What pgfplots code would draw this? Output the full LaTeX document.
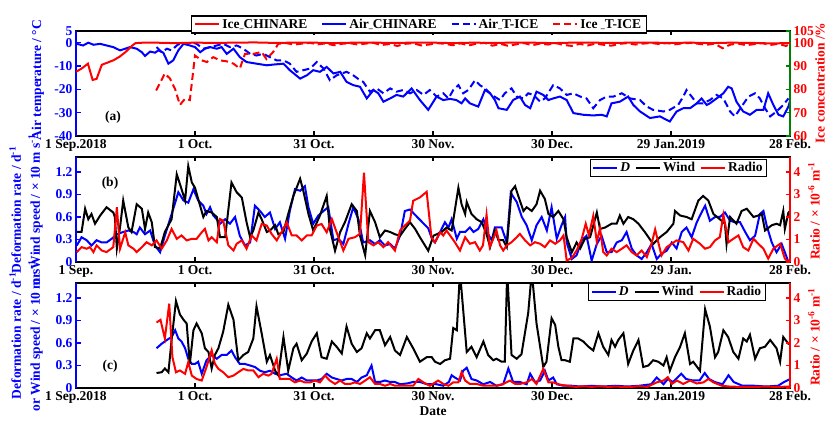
\documentclass[border=0pt]{standalone}
\usepackage{fontspec}
\setmainfont{Liberation Serif}
\usepackage{pgfplots}
\pgfplotsset{compat=1.18}

\definecolor{cblue}{RGB}{0,0,255}
\definecolor{cred}{RGB}{255,0,0}
\definecolor{cgreen}{RGB}{0,128,0}
\newcommand{\lbl}{\fontsize{13.5}{16}\selectfont\bfseries}
% short low underscore used in the station names
\newcommand{\us}{{\fontsize{8}{8}\selectfont\_}}

\pgfplotsset{
  panel/.style={
    scale only axis, width=714pt, height=105pt, anchor=south west,
    xmin=0, xmax=180, xtick={0,30,60,90,120,150,180},
    tick align=inside, major tick length=4.5pt,
    axis line style={line width=1.8pt},
    every tick/.append style={line width=1.3pt, black},
    tick label style={font=\lbl},
    every axis plot/.append style={line width=2pt},
    legend image code/.code={\draw[#1,line width=2pt] (0pt,0pt) -- (24pt,0pt);},
  },
  leftpanel/.style={panel, xtick pos=both, xticklabel pos=bottom, ytick pos=left,
    every y tick/.append style={cblue}, yticklabel style={cblue},
    extra description/.code={\draw[cblue,line width=1.8pt] (axis description cs:0,0) -- (axis description cs:0,1);}},
  rightpanel/.style={panel, axis x line=none, axis y line*=right, yticklabel style={cred}},
  dash/.style={dash pattern=on 7pt off 4pt},
  smalllegend/.style={legend columns=3,
    legend style={draw=black, line width=1.2pt, fill=white,
      font=\lbl, inner xsep=2pt, inner ysep=1pt,
      nodes={inner xsep=2pt},
      /tikz/every even column/.append style={column sep=3pt}}},
}

\begin{document}
\begin{tikzpicture}
\useasboundingbox (0pt,0pt) rectangle (826pt,427pt);

% ---------------- (a) air temperature and ice concentration ----------------
\begin{axis}[leftpanel, at={(76pt,291pt)},
  ymin=-40, ymax=5, ytick={-40,-30,-20,-10,0,5}, yticklabels={-40,-30,-20,-10,0,5},
  xticklabels={1 Sep.2018,1 Oct.,31 Oct.,30 Nov.,30 Dec.,29 Jan.2019,28 Feb.}]
% Air_CHINARE
\addplot[cblue] coordinates {
(0.2,-0.5) (1.8,-1.2) (3.1,0.0) (4.4,-0.9) (6.1,-0.5) (7.7,-1.2) (9.4,-1.9) (11.1,-3.3) (12.4,-2.6) (13.6,-1.9)
(15.3,-2.6) (16.6,-4.1) (17.4,-5.7) (18.7,-3.8) (19.9,-4.3) (20.8,-3.3) (22.0,-4.3) (23.3,-9.0) (24.5,-7.6) (25.8,-3.3)
(27.1,-0.5) (28.7,-1.2) (30.0,-1.9) (31.3,-4.1) (32.5,-2.6) (33.8,-1.9) (35.5,-2.6) (36.7,-1.9) (38.0,-4.8) (39.7,-2.6)
(41.3,-6.2) (43.0,-8.3) (45.5,-9.0) (48.1,-9.7) (49.7,-9.4) (52.3,-9.0) (53.9,-11.8) (56.5,-15.4) (58.2,-14.0) (59.8,-11.8)
(61.5,-12.5) (63.2,-10.4) (64.9,-13.2) (66.6,-12.5) (68.2,-16.8) (69.9,-18.2) (71.6,-18.9) (73.3,-23.9) (75.0,-20.3) (76.2,-21.7)
(77.5,-25.3) (79.2,-23.9) (80.8,-22.4) (82.5,-23.1) (84.6,-19.6) (86.7,-24.6) (88.8,-28.8) (90.9,-23.1) (92.6,-24.6) (94.3,-24.1)
(95.9,-24.6) (97.2,-26.0) (98.1,-23.9) (99.3,-26.0) (101.4,-27.4) (103.1,-20.3) (104.4,-21.7) (105.6,-24.6) (106.5,-28.1) (108.6,-28.8)
(110.2,-24.6) (111.9,-23.1) (113.2,-26.7) (114.5,-28.1) (116.1,-21.0) (117.8,-22.4) (119.1,-24.6) (120.3,-23.9) (122.0,-23.1) (123.7,-24.6)
(125.4,-30.2) (127.9,-30.9) (130.4,-31.2) (132.5,-30.9) (133.8,-31.6) (135.0,-26.0) (137.1,-25.3) (139.2,-23.1) (140.5,-26.7) (142.2,-29.5)
(144.7,-32.3) (147.2,-31.6) (149.7,-33.8) (151.4,-29.5) (153.1,-28.1) (154.8,-28.1) (156.5,-26.0) (157.7,-23.9) (159.0,-26.7) (159.8,-26.0)
(161.5,-23.9) (163.2,-21.7) (164.4,-18.9) (165.3,-19.6) (166.5,-25.3) (168.2,-29.5) (169.9,-30.9) (171.6,-28.8) (173.3,-28.8) (174.5,-21.7)
(175.8,-26.7) (177.1,-30.9) (178.3,-31.6) (179.6,-27.4) (180.0,-25.0)};
% Air_T-ICE
\addplot[cblue, dash] coordinates {
(20.3,-1.9) (21.6,-4.1) (22.9,-2.6) (24.1,-3.3) (25.4,-1.2) (26.6,0.0) (27.9,-0.5) (29.2,0.2) (30.4,-0.5) (32.1,-2.6)
(33.8,-1.9) (35.5,-1.2) (37.1,-0.5) (38.8,-1.9) (40.5,-1.2) (42.2,-2.6) (43.9,-4.8) (45.5,-5.5) (47.2,-4.8) (48.9,-6.2)
(50.6,-7.6) (52.3,-7.6) (53.9,-9.0) (55.6,-12.5) (57.3,-11.8) (59.0,-11.1) (60.7,-8.3) (62.4,-11.1) (64.0,-16.1) (65.7,-14.0)
(68.2,-12.5) (69.9,-14.0) (71.6,-16.1) (72.4,-16.8) (74.1,-21.0) (75.8,-19.6) (77.5,-21.7) (79.2,-19.6) (80.8,-21.0) (82.5,-20.3)
(84.2,-21.7) (85.9,-20.3) (87.6,-22.4) (89.2,-20.3) (90.9,-23.1) (92.6,-21.7) (93.9,-23.9) (95.1,-20.3) (96.4,-18.2) (97.6,-21.7)
(98.9,-20.3) (100.6,-16.1) (101.8,-18.2) (103.1,-19.6) (104.8,-22.4) (106.9,-24.6) (108.1,-21.7) (109.8,-19.6) (111.1,-23.1) (112.8,-23.9)
(114.0,-21.7) (115.3,-22.4) (117.0,-25.3) (118.2,-23.9) (120.3,-18.2) (122.0,-19.6) (123.7,-22.4) (125.4,-21.7) (127.1,-23.1) (128.7,-23.9)
(130.4,-28.1) (132.1,-24.6) (133.8,-23.1) (135.5,-23.1) (137.6,-21.7) (139.7,-23.9) (142.2,-24.6) (143.9,-27.4) (145.5,-28.8) (148.1,-29.5)
(149.7,-28.8) (151.8,-26.7) (153.1,-23.1) (153.9,-20.3) (155.2,-23.1) (156.5,-26.0) (158.1,-26.0) (159.8,-24.6) (161.5,-22.4) (163.2,-23.9)
(164.9,-29.5) (166.1,-31.6) (167.8,-27.4) (169.5,-23.1) (171.2,-21.7) (172.4,-23.9) (173.7,-28.1) (175.0,-31.6) (176.6,-29.5) (178.3,-26.7)
(179.6,-23.9)};
\end{axis}

\begin{axis}[rightpanel, at={(76pt,291pt)},
  ymin=60, ymax=105, ytick={60,70,80,90,100,105}, yticklabels={60,70,80,90,100,105},
  every outer y axis line/.append style={cgreen}, every y tick/.append style={cgreen},
  legend columns=4,
  legend style={at={(0.48,1.062)}, anchor=center, draw=black, line width=1.2pt, fill=white,
    font=\lbl, inner xsep=3pt, inner ysep=1pt,
    /tikz/every even column/.append style={column sep=12pt}}]
\addlegendimage{cred}\addlegendentry{Ice\us CHINARE}
\addlegendimage{cblue}\addlegendentry{Air\us CHINARE}
\addlegendimage{cblue, dash}\addlegendentry{Air\us T-ICE}
\addlegendimage{cred, dash}\addlegendentry{Ice \us T-ICE}
% Ice_CHINARE
\addplot[cred, forget plot] coordinates {
(0,87.5) (1.5,89) (3,91) (4.2,84) (5.2,84.5) (6.5,90.5) (8,91.5) (9.5,92.5) (11,94) (12.5,96) (14,98.5) (15,99.8)
(17,100) (20,100) (25,99.8) (30,100) (35,99.9) (40,100) (45,100.1) (50,99.9) (55,100) (60,100) (65,99.8) (70,100)
(75,100) (80,99.9) (85,100) (90,100) (95,99.8) (100,100) (105,99.9) (110,100) (115,100) (120,99.8) (125,100) (130,100)
(135,99.9) (140,100) (145,100) (150,99.9) (155,100) (160,99.8) (165,100) (170,99.9) (175,99.7) (180,99.8)};
% Ice_T-ICE
\addplot[cred, dash, forget plot] coordinates {
(20.2,79.5) (22.4,86.8) (23.7,84.6) (25,80) (26.2,73.3) (27.5,76) (28.7,75.4) (30,94.5) (31.7,92.4) (33,91.7)
(34.6,93.8) (36.3,92.4) (38,92) (39.7,91) (41.3,88.9) (42.6,95.2) (44.7,95.2) (46.8,96) (48,93) (49.7,96) (51,99.5)
(53,99.8) (55,99.2) (57,99.6) (59,99.9) (61,99.3) (63,99.7) (65,98.9) (67,99.5) (69,99.8) (71,99.2) (73,99.6) (75,99.9)
(77,99) (79,99.4) (81,98.6) (83,99.5) (85,99.8) (87,98.8) (89,99.2) (91,99.8) (93,99.5) (95,98.9) (97,99.7) (99,98.8)
(101,99.6) (103,99.9) (105,98.7) (107,99.5) (109,98.6) (111,99.3) (113,99.8) (115,98.9) (117,99.6) (119,99.2) (121,99.8)
(123,99) (125,98.6) (127,99.5) (129,98.8) (131,99.6) (133,99.1) (135,98.7) (137,99.5) (139,99.8) (141,99.2) (143,99.6)
(145,99.9) (147,99.4) (149,99.8) (151,99.3) (153,99.7) (155,99.9) (157,99.5) (159,99.1) (161,99.6) (163,97.6) (165,99.2)
(167,99.6) (169,98.9) (171,99.4) (173,99.8) (175,99) (177,99.5) (179,98.6) (180,99.4)};
\end{axis}

% ---------------- (b) ----------------
\begin{axis}[leftpanel, at={(76pt,165pt)},
  ymin=0, ymax=1.4, ytick={0,0.3,0.6,0.9,1.2}, yticklabels={0,0.3,0.6,0.9,1.2},
  xticklabels={1 Sep.,1 Oct.,31 Oct.,30 Nov.,30 Dec.,29 Jan.,28 Feb.}]
% D
\addplot[cblue] coordinates {
(0.2,0.22) (1.4,0.33) (2.7,0.29) (3.9,0.22) (5.2,0.29) (6.5,0.26) (7.7,0.26) (9.0,0.31) (10.3,0.37) (11.9,0.40)
(13.2,0.42) (14.5,0.40) (15.3,0.37) (16.1,0.46) (17.4,0.37) (18.7,0.42) (19.9,0.22) (21.2,0.13) (22.4,0.35) (23.7,0.57)
(25.0,0.79) (25.8,0.93) (27.1,0.82) (28.3,0.79) (29.6,0.97) (30.8,0.82) (32.1,0.75) (32.9,0.64) (33.8,0.73) (34.6,0.62)
(35.5,0.57) (36.3,0.51) (37.6,0.57) (38.8,0.51) (40.1,0.60) (41.3,0.35) (42.6,0.22) (43.9,0.26) (45.1,0.75) (46.4,0.68)
(47.6,0.60) (48.9,0.66) (50.2,0.44) (51.4,0.53) (52.7,0.31) (53.9,0.68) (55.2,0.97) (56.5,0.95) (57.7,1.01) (58.6,0.73)
(59.8,0.51) (61.1,0.62) (62.4,0.68) (63.6,0.73) (64.9,0.29) (66.1,0.31) (67.4,0.24) (68.7,0.51) (69.9,0.73) (71.2,0.57)
(72.4,0.26) (74.1,0.29) (75.4,0.24) (76.6,0.29) (77.9,0.22) (79.2,0.24) (80.4,0.18) (81.7,0.35) (82.9,0.68) (84.2,0.70)
(86.0,0.60) (88.8,0.45) (89.8,0.30) (90.5,0.26) (91.8,0.40) (93.0,0.53) (93.9,0.46) (94.7,0.57) (96.0,0.31) (96.8,0.40)
(98.1,0.40) (99.3,0.46) (100.2,0.40) (101.4,0.44) (102.7,0.57) (103.9,0.37) (104.8,0.29) (105.6,0.46) (107.3,0.46) (108.6,0.26)
(109.6,0.92) (111.1,0.80) (112.4,0.60) (113.6,0.49) (114.9,0.29) (116.1,0.49) (117.4,0.60) (118.7,0.42) (119.9,0.73) (121.2,0.31)
(122.4,0.49) (123.3,0.60) (123.7,0.26) (125.0,0.04) (126.2,0.09) (127.5,0.29) (128.7,0.35) (130.0,0.02) (131.3,0.24) (132.5,0.35)
(133.8,0.13) (135.0,0.13) (136.3,0.26) (137.6,0.29) (138.8,0.40) (140.1,0.18) (141.3,0.09) (142.6,0.04) (143.9,0.13) (145.1,0.24)
(146.4,0.04) (147.6,0.11) (148.9,0.15) (150.2,0.26) (151.4,0.18) (152.7,0.40) (153.9,0.46) (155.2,0.33) (156.5,0.53) (157.7,0.66)
(158.6,0.75) (159.8,0.55) (161.1,0.60) (162.3,0.60) (163.6,0.66) (164.9,0.55) (166.1,0.53) (167.4,0.53) (168.7,0.40) (169.9,0.29)
(171.2,0.35) (172.4,0.64) (173.3,0.68) (174.1,0.49) (175.4,0.26) (176.6,0.13) (177.9,0.24) (178.7,0.13) (179.6,0.0) (180,0.02)};
% Wind
\addplot[black] coordinates {
(0.2,0.40) (1.4,0.40) (2.3,0.71) (3.1,0.57) (3.9,0.64) (4.8,0.51) (6.1,0.62) (7.7,0.73) (9.4,0.66) (9.8,0.60)
(10.3,0.18) (11.1,0.46) (11.9,0.82) (13.2,0.46) (14.0,0.40) (15.3,0.77) (16.6,0.71) (17.4,0.44) (18.2,0.66) (19.1,0.53)
(19.9,0.20) (21.2,0.18) (22.4,0.40) (23.7,0.53) (24.1,0.57) (25.4,1.17) (26.2,1.04) (27.5,0.82) (28.3,1.28) (29.2,1.06)
(30.0,0.99) (30.8,0.84) (32.1,0.60) (32.9,0.68) (34.2,0.66) (35.5,0.60) (36.3,0.33) (37.6,0.33) (39.2,1.06) (40.5,0.93)
(41.8,0.86) (43.0,0.53) (43.9,0.33) (44.7,0.42) (46.0,0.66) (46.8,0.57) (48.1,0.40) (48.9,0.42) (50.2,0.49) (51.0,0.37)
(52.3,0.40) (53.5,0.64) (54.8,0.88) (56.5,1.11) (57.3,0.95) (58.6,0.64) (59.8,0.42) (61.5,0.62) (63.2,0.88) (64.0,0.44)
(65.3,0.15) (66.6,0.40) (67.8,0.53) (69.5,0.77) (70.8,0.68) (71.6,0.35) (72.9,0.09) (74.1,0.68) (75.4,0.53) (76.6,0.33)
(77.9,0.42) (79.2,0.40) (80.4,0.37) (81.7,0.35) (82.9,0.44) (84.2,0.53) (85.5,0.44) (86.7,0.33) (88.8,0.15) (90.1,0.35)
(92.2,0.40) (93.4,0.46) (94.7,0.42) (96.4,0.99) (97.2,0.77) (98.1,0.64) (98.5,0.80) (99.7,0.64) (101.0,0.57) (102.3,0.53)
(103.5,0.37) (104.4,0.20) (105.6,0.42) (106.5,0.29) (107.7,0.29) (108.6,0.20) (109.8,0.95) (110.7,1.01) (111.5,0.88) (112.8,0.68)
(113.6,0.73) (114.9,0.68) (116.1,0.77) (117.0,0.95) (118.2,0.84) (119.1,0.64) (120.3,0.60) (121.6,0.68) (122.9,0.57) (123.7,0.33)
(125.0,0.13) (126.2,0.26) (127.1,0.18) (128.3,0.31) (129.6,0.33) (131.3,0.66) (132.1,0.44) (133.4,0.46) (135.0,0.51) (136.3,0.51)
(137.1,0.62) (138.0,0.51) (139.2,0.60) (140.5,0.57) (141.8,0.51) (143.4,0.40) (145.5,0.24) (147.2,0.33) (148.9,0.40) (150.6,0.51)
(151.0,0.68) (152.3,0.62) (153.9,0.60) (155.2,0.57) (156.9,0.82) (158.1,0.88) (159.4,0.82) (160.7,0.64) (162.3,0.57) (163.6,0.51)
(164.0,0.24) (164.9,0.60) (166.5,0.51) (167.8,0.68) (169.1,0.71) (170.8,0.60) (172.0,0.62) (172.9,0.64) (173.7,0.42) (175.4,0.49)
(176.6,0.51) (177.5,0.49) (178.3,0.68) (178.7,0.44) (179.6,0.66) (180,0.68)};
\end{axis}

\begin{axis}[rightpanel, smalllegend, at={(76pt,165pt)},
  ymin=0, ymax=4.6667, ytick={0,1,2,3,4}, yticklabels={0,1,2,3,4},
  every outer y axis line/.append style={cred}, every y tick/.append style={cred},
  legend style={at={(0.968,0.981)}, anchor=north east}]
\addlegendimage{cblue}\addlegendentry{\textit{D}}
\addlegendimage{black}\addlegendentry{Wind}
\addlegendimage{cred}\addlegendentry{Radio}
% Ratio
\addplot[cred, forget plot] coordinates {
(0.2,0.44) (1.4,0.66) (2.7,0.59) (3.5,0.66) (4.4,0.44) (5.2,0.74) (6.5,0.51) (7.7,0.44) (9.4,0.66) (10.3,2.43)
(11.1,0.59) (12.4,1.32) (13.2,0.74) (14.5,0.59) (15.3,0.44) (16.6,0.66) (17.8,0.88) (19.1,0.74) (20.3,0.96) (21.6,0.59)
(22.9,0.96) (24.1,1.47) (25.4,1.03) (26.6,1.18) (27.9,0.96) (29.2,1.03) (30.4,1.03) (31.7,1.32) (32.5,1.47) (33.4,0.96)
(34.2,1.10) (35.5,0.88) (36.3,1.91) (37.1,1.84) (38.4,0.74) (39.7,0.51) (40.5,0.81) (41.8,0.96) (43.0,0.59) (44.3,1.18)
(45.5,0.96) (46.8,1.69) (48.1,1.62) (49.3,1.25) (50.6,0.96) (51.8,1.32) (53.1,1.76) (54.4,1.18) (55.6,1.18) (56.9,0.96)
(58.2,1.18) (59.4,1.18) (60.7,1.62) (61.9,1.69) (63.2,1.32) (64.5,1.91) (65.7,1.32) (67.4,0.51) (68.7,1.03) (70.3,1.10)
(71.6,1.25) (72.6,3.97) (73.7,0.88) (75.0,0.74) (76.2,0.88) (77.5,0.66) (78.7,0.88) (80.4,0.51) (81.7,1.40) (82.9,1.62)
(84.2,1.84) (85.0,2.72) (86.7,2.87) (88.4,3.12) (89.6,1.10) (90.5,0.88) (91.8,1.32) (92.6,1.18) (93.4,1.40) (94.3,1.18)
(95.5,0.88) (96.8,0.51) (98.1,1.10) (99.3,0.81) (100.6,0.88) (101.8,0.51) (102.6,0.74) (103.5,2.10) (104.3,0.66) (105.2,1.03)
(106.0,1.40) (106.9,0.74) (107.7,0.51) (108.6,0.74) (109.8,0.88) (111.1,1.10) (111.9,1.25) (113.2,0.96) (114.5,0.74) (115.7,0.88)
(117.0,0.81) (118.2,0.66) (119.5,0.96) (120.8,0.81) (122.0,0.96) (122.9,1.18) (123.7,0.07) (125.0,0.18) (126.2,0.51) (127.5,1.03)
(128.5,1.70) (129.3,1.20) (130.4,2.05) (131.3,0.90) (132.1,1.50) (132.9,0.45) (133.8,0.29) (135.0,0.59) (136.3,0.44) (137.6,0.59)
(138.8,0.74) (140.1,0.44) (141.3,0.29) (142.6,0.51) (143.9,0.22) (145.1,0.81) (146.0,1.45) (147.6,0.29) (148.9,0.66) (150.2,0.81)
(151.4,0.96) (153.1,0.88) (154.4,0.51) (155.6,1.03) (157.3,0.81) (158.6,0.59) (159.8,0.66) (161.1,0.96) (162.3,1.10) (163.2,2.10)
(164.5,0.88) (165.7,1.03) (167.0,1.18) (168.2,0.66) (169.5,0.51) (170.8,1.03) (172.0,0.81) (173.3,0.59) (174.5,0.15) (175.8,0.59)
(177.5,0.81) (178.7,0.15) (179.6,0.0) (180,0.05)};
\end{axis}

% ---------------- (c) ----------------
\begin{axis}[leftpanel, at={(76pt,39pt)},
  ymin=0, ymax=1.4, ytick={0,0.3,0.6,0.9,1.2}, yticklabels={0,0.3,0.6,0.9,1.2},
  xticklabels={1 Sep.2018,1 Oct.,31 Oct.,30 Nov.,30 Dec.,29 Jan.2019,28 Feb.},
  xlabel={Date}, xlabel style={font=\lbl, inner sep=0pt, yshift=0pt}]
% D
\addplot[cblue] coordinates {
(20.3,0.53) (21.6,0.59) (22.9,0.64) (24.1,0.68) (25.0,0.77) (25.8,0.66) (26.6,0.62) (27.5,0.53) (28.3,0.39) (29.2,0.32)
(30.0,0.32) (30.8,0.35) (31.7,0.19) (32.9,0.37) (34.2,0.44) (35.5,0.39) (36.7,0.44) (38.0,0.44) (39.2,0.50) (40.1,0.41)
(41.3,0.32) (42.6,0.32) (43.9,0.30) (45.1,0.28) (46.4,0.23) (47.6,0.21) (48.9,0.23) (50.2,0.19) (51.4,0.17) (53.1,0.19)
(54.4,0.14) (55.6,0.10) (56.9,0.14) (58.2,0.10) (59.4,0.10) (60.7,0.10) (61.9,0.12) (63.2,0.19) (64.5,0.14) (65.7,0.12)
(67.0,0.10) (68.2,0.12) (69.5,0.12) (70.8,0.08) (72.0,0.14) (73.3,0.17) (74.5,0.30) (75.4,0.08) (76.6,0.08) (77.9,0.10)
(79.2,0.08) (80.4,0.08) (81.7,0.05) (83.4,0.06) (85.0,0.08) (86.7,0.08) (88.4,0.05) (90.9,0.05) (92.6,0.03) (94.0,0.08)
(94.7,0.17) (95.5,0.14) (96.8,0.10) (97.6,0.23) (98.5,0.27) (99.7,0.12) (101.0,0.10) (102.7,0.05) (104.4,0.08) (106.0,0.03)
(107.7,0.05) (109.0,0.26) (110.2,0.08) (111.9,0.08) (113.6,0.05) (114.5,0.19) (115.7,0.08) (117.0,0.10) (118.2,0.23) (119.1,0.10)
(120.3,0.14) (121.2,0.05) (122.9,0.03) (125,0.03) (127,0.02) (130,0.03) (133,0.02) (136,0.03) (139,0.02) (142,0.03)
(145,0.05) (146.4,0.14) (147.2,0.10) (148.1,0.05) (149.2,0.12) (150.5,0.08) (152.6,0.19) (153.8,0.12) (155.5,0.10) (157.2,0.10)
(158.5,0.20) (159.6,0.12) (161,0.08) (163,0.05) (164.5,0.17) (165.8,0.08) (168,0.03) (171,0.03) (174,0.02) (177,0.03)
(178.5,0.08) (180,0.12)};
% Wind
\addplot[black] coordinates {
(20.3,0.20) (21.6,0.21) (22.4,0.26) (23.3,0.21) (24.1,0.64) (25.2,1.16) (26.2,0.98) (27.1,0.91) (27.9,0.86) (28.7,0.32)
(29.6,0.77) (30.4,0.86) (31.7,0.73) (32.5,0.53) (33.4,0.48) (34.2,0.26) (35.0,0.44) (35.9,0.53) (37.1,0.75) (38.4,1.11)
(39.7,0.91) (40.9,0.37) (42.2,0.44) (43.4,0.48) (44.7,0.66) (45.5,1.09) (46.8,0.73) (48.1,0.35) (48.9,0.44) (50.2,0.23)
(51.0,0.17) (52.3,0.68) (53.5,0.23) (54.8,0.53) (55.6,0.59) (56.9,0.37) (58.2,0.46) (59.4,0.62) (60.7,0.73) (61.9,0.41)
(63.2,0.39) (64.5,0.62) (65.7,0.55) (67.0,0.46) (68.2,0.82) (69.5,0.59) (70.8,0.48) (72.0,0.53) (73.3,0.73) (74.1,0.66)
(75.4,0.77) (76.6,0.77) (77.9,0.57) (79.2,0.68) (80.4,0.50) (81.7,0.44) (83.4,0.68) (85.0,0.53) (86.7,0.35) (88.4,0.41)
(89.7,0.41) (90.5,0.35) (91.8,0.32) (93.0,0.37) (94.3,0.39) (95.1,0.80) (96.0,0.77) (96.8,1.55) (98.5,0.48) (99.7,0.55)
(101.0,0.41) (102.7,0.62) (103.9,0.44) (105.2,0.37) (106.0,0.39) (107.3,0.35) (108.1,0.35) (108.7,1.55) (109.8,0.44) (111.1,0.39)
(112.3,0.45) (114.0,1.00) (114.9,1.55) (116.1,0.86) (117.8,0.28) (118.6,0.35) (119.9,0.93) (120.8,0.84) (121.6,0.55) (122.4,0.37)
(123.3,0.37) (124.5,0.35) (125.4,0.66) (126.6,0.66) (127.9,0.62) (129.2,0.55) (130.4,0.50) (131.7,0.73) (132.9,0.55) (134.2,0.44)
(135.0,0.64) (135.9,0.55) (136.7,0.64) (138.0,0.73) (139.2,0.32) (140.5,0.50) (141.8,0.64) (143.0,0.28) (144.3,0.30) (145.5,0.37)
(146.8,0.35) (148.1,0.30) (148.9,0.41) (149.7,0.23) (151.0,0.41) (152.3,0.55) (153.5,0.73) (154.8,0.32) (155.6,0.35) (157.3,0.23)
(158.6,1.05) (159.8,0.82) (161.1,0.41) (161.9,0.48) (163.2,0.77) (164.4,0.68) (165.7,0.48) (167.0,0.39) (168.2,0.66) (169.1,0.62)
(169.9,0.71) (171.2,0.39) (172.4,0.53) (173.7,0.55) (175.0,0.64) (176.6,0.53) (177.5,0.35) (178.3,0.68) (179.6,0.59) (180,0.60)};
\end{axis}

\begin{axis}[rightpanel, smalllegend, at={(76pt,39pt)},
  ymin=0, ymax=4.6667, ytick={0,1,2,3,4}, yticklabels={0,1,2,3,4},
  every outer y axis line/.append style={cred}, every y tick/.append style={cred},
  legend style={at={(0.966,1.0)}, anchor=north east}]
\addlegendimage{cblue}\addlegendentry{\textit{D}}
\addlegendimage{black}\addlegendentry{Wind}
\addlegendimage{cred}\addlegendentry{Radio}
% Ratio
\addplot[cred, forget plot] coordinates {
(20.3,2.91) (21.3,3.03) (22.4,2.20) (23.5,3.75) (24.3,1.38) (25.2,0.70) (26.2,0.78) (27.5,0.63) (28.3,1.15) (29.2,0.55)
(30.4,0.40) (31.7,0.33) (32.9,0.93) (34.2,1.68) (35.0,1.08) (35.9,0.85) (37.1,0.70) (38.4,0.48) (39.7,0.55) (40.9,0.70)
(42.2,0.85) (43.4,0.78) (44.7,0.78) (46.0,0.48) (47.2,0.63) (48.5,0.55) (49.3,0.63) (50.6,1.30) (51.4,0.40) (52.7,0.40)
(53.9,0.40) (55.2,0.25) (56.5,0.33) (57.7,0.25) (59.0,0.25) (60.3,0.33) (61.5,0.25) (62.8,0.55) (64.0,0.33) (65.3,0.18)
(66.6,0.33) (67.8,0.18) (69.1,0.18) (70.3,0.25) (71.6,0.18) (72.9,0.33) (74.1,0.48) (75.4,0.18) (76.6,0.18) (77.9,0.10)
(79.2,0.18) (80.4,0.10) (81.7,0.10) (83.4,0.10) (85.0,0.10) (86.3,0.40) (87.6,0.25) (89.2,0.10) (91.3,0.33) (92.6,0.18)
(93.9,0.10) (95.1,0.25) (96.4,0.25) (97.2,0.70) (98.1,0.33) (99.3,0.18) (101.0,0.18) (102.7,0.10) (104.4,0.10) (106.0,0.10)
(107.7,0.18) (109.4,0.33) (110.7,0.18) (111.9,0.18) (113.6,0.25) (114.9,0.40) (116.1,0.18) (117.8,0.85) (119.1,0.25) (120.3,0.25)
(122.0,0.15) (123.7,0.10) (126,0.05) (128,0.08) (130,0.05) (132,0.08) (134,0.05) (136,0.06) (138,0.05) (140,0.05)
(142,0.08) (144,0.05) (146.4,0.25) (148.1,0.33) (149.2,0.48) (150.2,0.18) (151.5,0.33) (153.1,0.18) (154.8,0.33) (156.5,0.20)
(158.2,0.25) (159.4,0.40) (160.7,0.25) (162.8,0.10) (165,0.06) (168,0.05) (171,0.05) (174,0.06) (177,0.05) (179.6,0.06)
(180,0.08)};
\end{axis}

% axis titles and panel tags
\node[rotate=90, text=cblue, font=\lbl] at (38pt,347pt) {Air temperature / °C};
\node[rotate=90, text=cred, font=\lbl] at (820pt,344pt) {Ice concentration /\%};
\node[rotate=90, text=cblue, font=\lbl, align=center] at (26pt,217pt)
  {Deformation rate / d\textsuperscript{-1}\\[3pt]or Wind speed / × 10 m s\textsuperscript{-1}};
\node[rotate=90, text=cred, font=\lbl] at (814pt,216pt) {Ratio / × 10\textsuperscript{-6} m\textsuperscript{-1}};
\node[rotate=90, text=cblue, font=\lbl, align=center] at (26pt,91pt)
  {Deformation rate / d\textsuperscript{-1}\\[3pt]or Wind speed / × 10 m s\textsuperscript{-1}};
\node[rotate=90, text=cred, font=\lbl] at (814pt,90pt) {Ratio / × 10\textsuperscript{-6} m\textsuperscript{-1}};
\node[font=\lbl] at (113pt,310pt) {(a)};
\node[font=\lbl] at (110pt,244pt) {(b)};
\node[font=\lbl] at (110pt,61pt) {(c)};
\end{tikzpicture}
\end{document}
